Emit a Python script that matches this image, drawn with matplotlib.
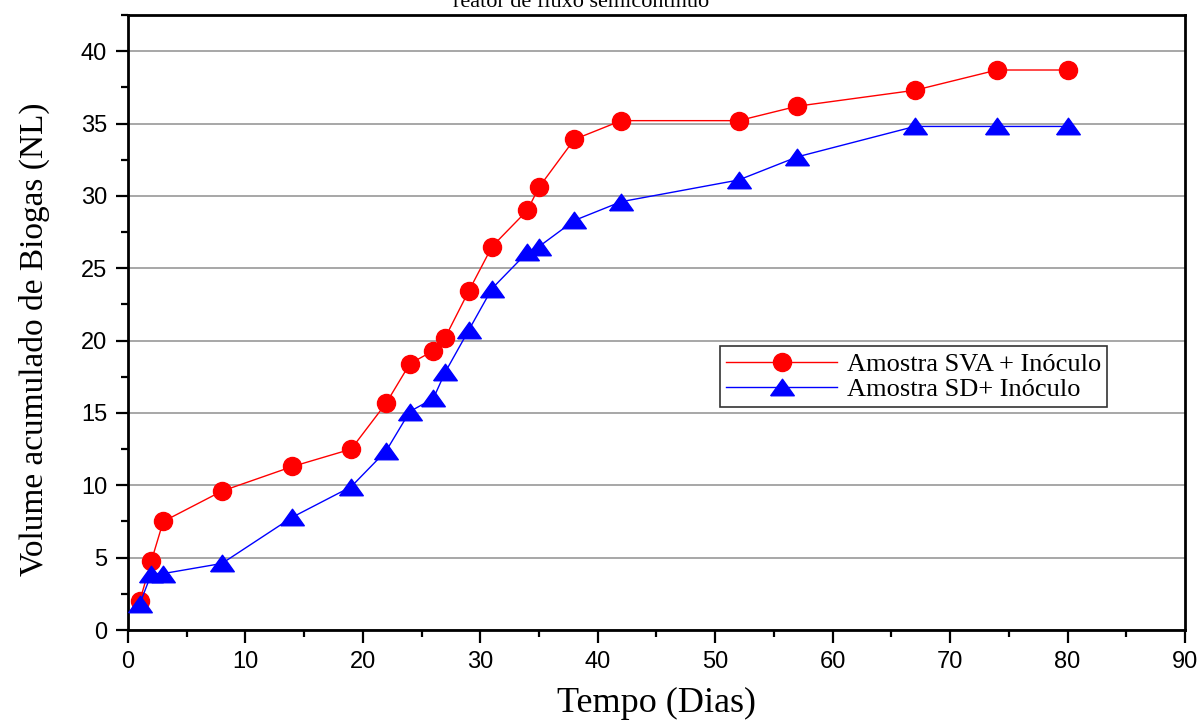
import matplotlib
matplotlib.use("Agg")
import matplotlib.pyplot as plt
from matplotlib.ticker import MultipleLocator

# Accumulated biogas volume (NL) per day
dias_sva = [1, 2, 3, 8, 14, 19, 22, 24, 26, 27, 29, 31, 34, 35, 38, 42, 52, 57, 67, 74, 80]
vol_sva = [2.0, 4.8, 7.5, 9.6, 11.3, 12.5, 15.7, 18.4, 19.3, 20.2, 23.4, 26.5,
           29.0, 30.6, 33.9, 35.2, 35.2, 36.2, 37.3, 38.7, 38.7]

dias_sd = [1, 2, 3, 8, 14, 19, 22, 24, 26, 27, 29, 31, 34, 35, 38, 42, 52, 57, 67, 74, 80]
vol_sd = [1.8, 3.9, 3.9, 4.6, 7.8, 9.9, 12.4, 15.1, 16.0, 17.8, 20.7, 23.6,
          26.1, 26.5, 28.3, 29.6, 31.1, 32.7, 34.8, 34.8, 34.8]

label_sva = "Amostra SVA + Inóculo"
label_sd = "Amostra SD+ Inóculo"
x_label = "Tempo (Dias)"
y_label = "Volume acumulado de Biogas (NL)"
title_text = "reator de fluxo semicontínuo"

serif = ["Liberation Serif", "DejaVu Serif"]
sans = ["Liberation Sans", "DejaVu Sans"]

fig = plt.figure(figsize=(12.03, 7.22), dpi=100)
ax = fig.add_axes([0.1064, 0.1274, 0.8786, 0.8518])

# flattened triangle marker
tri = [(-1.0, -0.7), (1.0, -0.7), (0.0, 0.7), (-1.0, -0.7)]

ax.plot(dias_sva, vol_sva, color="#ff0000", lw=1.0, marker="o", ms=13,
        mfc="#ff0000", mec="#ff0000", label=label_sva, zorder=3)
ax.plot(dias_sd, vol_sd, color="#0000ff", lw=1.0, marker=tri, ms=17,
        mfc="#0000ff", mec="#0000ff", label=label_sd, zorder=4)

ax.set_xlim(0, 90)
ax.set_ylim(0, 42.5)
ax.xaxis.set_major_locator(MultipleLocator(10))
ax.xaxis.set_minor_locator(MultipleLocator(5))
ax.yaxis.set_major_locator(MultipleLocator(5))
ax.yaxis.set_minor_locator(MultipleLocator(2.5))

ax.grid(axis="y", which="major", color="#a0a0a0", lw=1.3, zorder=0)
ax.set_axisbelow(True)

for s in ax.spines.values():
    s.set_linewidth(2.0)
    s.set_color("black")

ax.tick_params(which="major", direction="out", length=9, width=1.6,
               labelsize=17, pad=6)
ax.tick_params(which="minor", direction="out", length=5, width=1.6)
ax.tick_params(top=False, right=False)
for lab in ax.get_xticklabels() + ax.get_yticklabels():
    lab.set_fontfamily(sans)

ax.set_xlabel(x_label, fontsize=26, family=serif)
ax.xaxis.set_label_coords(0.5, -0.092)
ax.set_ylabel(y_label, fontsize=24, family=serif)
ax.yaxis.set_label_coords(-0.074, 0.473)

leg = ax.legend(loc="upper left", bbox_to_anchor=(0.56, 0.462),
                prop={"family": serif, "size": 19}, frameon=True,
                fancybox=False, edgecolor="black", handlelength=4.2,
                borderpad=0.25, labelspacing=0.05, handletextpad=0.35,
                borderaxespad=0.0)
leg.get_frame().set_linewidth(1.2)

fig.text(0.483, 0.990, title_text, ha="center", va="baseline",
         fontsize=16, family=serif)

fig.savefig("out.png", dpi=100)
